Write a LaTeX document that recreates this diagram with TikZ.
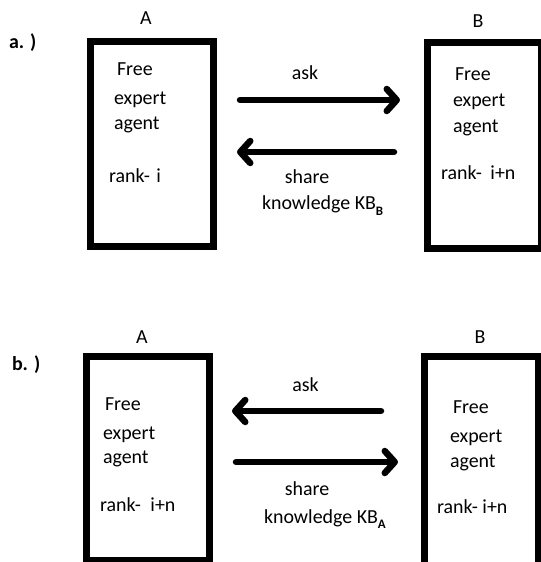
\documentclass[tikz,border=0pt]{standalone}
\usepackage{fontspec}
\setmainfont{Carlito}
\usetikzlibrary{arrows.meta}
\begin{document}
\begin{tikzpicture}[x=1bp,y=-1bp,
  agentbox/.style={draw=black,line width=6.7bp,line join=miter},
  txt/.style={inner sep=0pt,outer sep=0pt,font=\fontsize{20}{24}\selectfont,text=black},
  bold/.style={txt,font=\fontsize{20}{24}\selectfont\bfseries},
  arrowline/.style={line width=6.5bp,line cap=round,
    -{Straight Barb[length=10bp,width=22bp,line join=round,line cap=round]}}
]
\useasboundingbox (0,0) rectangle (541,562);
\clip (0,0) rectangle (541,562);
\fill[white] (0,0) rectangle (541,562);
\newcommand{\subB}[1]{\raisebox{-0.28em}{\fontsize{13}{13}\selectfont\bfseries #1}}

% ---------- a.) ----------
\node[bold,anchor=base west] (la) at (9,49) {a. )};
\node[txt,anchor=base] (tA) at (146,25) {A};
\node[txt,anchor=base] (tB) at (478,28) {B};
\draw[agentbox] (90.3,41.3) rectangle (213.7,246.7);
\draw[agentbox] (427.5,42.3) rectangle (541.3,248.7);

\node[txt,anchor=base west] (a1) at (117,76) {Free};
\node[txt,anchor=base west] (a2) at (114,105) {expert};
\node[txt,anchor=base west] (a3) at (114,130) {agent};
\node[txt,anchor=base west] (a4) at (109,183) {rank-\hspace{2bp} i};

\node[txt,anchor=base west] (b1) at (455,81) {Free};
\node[txt,anchor=base west] (b2) at (453,107) {expert};
\node[txt,anchor=base west] (b3) at (453,133) {agent};
\node[txt,anchor=base west] (b4) at (441,180) {rank-\hspace{4bp} i+n};

\coordinate (askAs) at (240,100);
\coordinate (askAt) at (400,100);
\coordinate (shAs) at (394,152);
\coordinate (shAt) at (237,152);
\draw[arrowline] (askAs) -- (askAt);
\draw[arrowline] (shAs) -- (shAt);
\node[txt,anchor=base] (askA) at (305,80) {ask};
\node[txt,anchor=base] (shA) at (307,184) {share};
\node[txt,anchor=base west] (knA) at (262,210) {knowledge KB\subB{B}};

% ---------- b.) ----------
\node[bold,anchor=base west] (lb) at (12,370) {b. )};
\node[txt,anchor=base] (tA2) at (142,343) {A};
\node[txt,anchor=base] (tB2) at (480,343) {B};
\draw[agentbox] (86.3,356.3) rectangle (209.7,560);
\draw[agentbox] (424.3,356.3) rectangle (538,580);

\node[txt,anchor=base west] (c1) at (105,410) {Free};
\node[txt,anchor=base west] (c2) at (103,439) {expert};
\node[txt,anchor=base west] (c3) at (103,463) {agent};
\node[txt,anchor=base west] (c4) at (100,511) {rank-\hspace{5bp} i+n};

\node[txt,anchor=base west] (d1) at (453,413) {Free};
\node[txt,anchor=base west] (d2) at (450,442) {expert};
\node[txt,anchor=base west] (d3) at (450,467) {agent};
\node[txt,anchor=base west] (d4) at (437,513) {rank- i+n};

\coordinate (askBs) at (381,411);
\coordinate (askBt) at (232,411);
\coordinate (shBs) at (236,462);
\coordinate (shBt) at (398,462);
\draw[arrowline] (askBs) -- (askBt);
\draw[arrowline] (shBs) -- (shBt);
\node[txt,anchor=base] (askB) at (305.5,391) {ask};
\node[txt,anchor=base] (shB) at (307,495) {share};
\node[txt,anchor=base west] (knB) at (264,523) {knowledge KB\subB{A}};
\end{tikzpicture}
\end{document}
